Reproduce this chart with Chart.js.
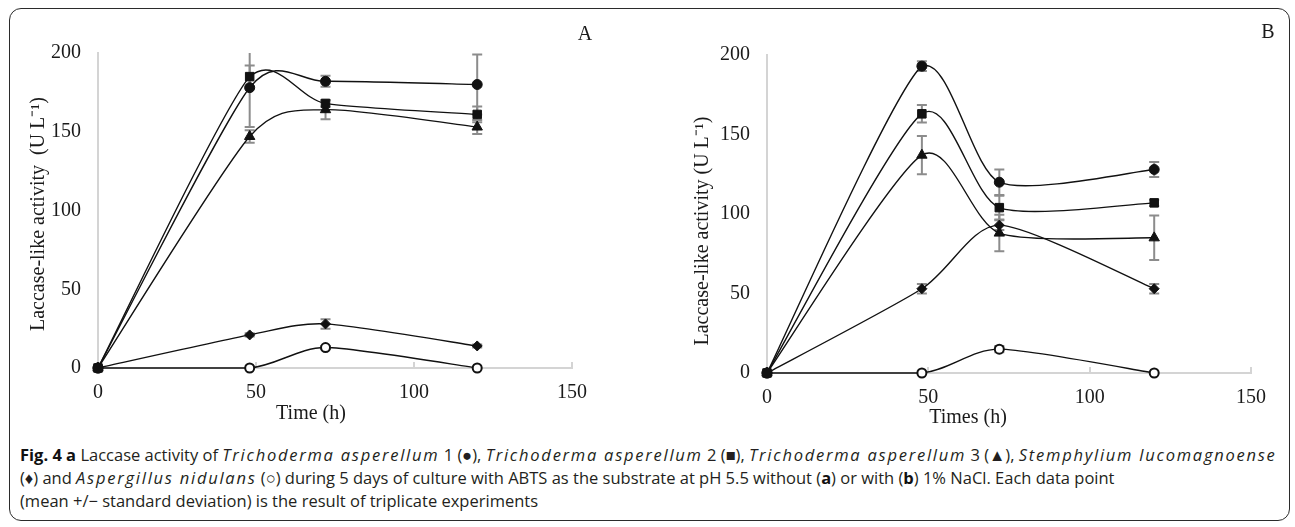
<!DOCTYPE html>
<html>
<head>
<meta charset="utf-8">
<script src="https://cdn.jsdelivr.net/npm/chart.js@4.4.1/dist/chart.umd.min.js"></script>
<style>
  html, body { margin: 0; padding: 0; background: #fff; }
  body { width: 1295px; height: 527px; position: relative; overflow: hidden; }
  #frame { position: absolute; left: 9px; top: 8px; width: 1281px; height: 513px;
           border: 1.5px solid #2b2b2b; border-radius: 12px; box-sizing: border-box; }
  .panel { position: absolute; top: 10px; }
  #panelA { left: 10px; }
  #panelB { left: 645px; }
  #caption { position: absolute; left: 20px; top: 443px; font-family: "Open Sans", sans-serif;
             font-size: 16.5px; line-height: 23px; color: #231f20; white-space: nowrap; }
  #caption b { color: #111; }
  #caption i { letter-spacing: 1.75px; }
</style>
</head>
<body>
<div id="frame"></div>
<canvas id="panelA" class="panel" width="635" height="425"></canvas>
<canvas id="panelB" class="panel" width="640" height="425"></canvas>
<div id="caption">
  <b>Fig. 4 a</b> Laccase activity of <i>Trichoderma asperellum</i> 1 (●), <i>Trichoderma asperellum</i> 2 (■), <i>Trichoderma asperellum</i> 3 (▲), <i>Stemphylium lucomagnoense</i><br>
  (♦) and <i>Aspergillus nidulans</i> (○) during 5 days of culture with ABTS as the substrate at pH 5.5 without (<b>a</b>) or with (<b>b</b>) 1% NaCl. Each data point<br>
  (mean +/− standard deviation) is the result of triplicate experiments
</div>
<script>
// tiempos de muestreo (h)
var hours = [0, 48, 72, 120];
var xTicks = [0, 50, 100, 150];
var yTicks = [0, 50, 100, 150, 200];

// panel A: sin NaCl
var ta1A = [0, 178, 182, 180];
var ta1A_sd = [0, 25, 3.5, 19];
var ta2A = [0, 185, 168, 161];
var ta2A_sd = [0, 7, 2, 5];
var ta3A = [0, 147, 164, 153];
var ta3A_sd = [0, 4, 6, 4.5];
var slA = [0, 21, 28, 14];
var slA_sd = [0, 1, 3, 1];
var anA = [0, 0, 13, 0];
var anA_sd = [0, 0, 1, 0];

// panel B: con 1% NaCl
var ta1B = [0, 193, 120, 128];
var ta1B_sd = [0, 3, 8, 4.7];
var ta2B = [0, 163, 104, 107];
var ta2B_sd = [0, 5.5, 7.5, 2];
var ta3B = [0, 137, 88, 85];
var ta3B_sd = [0, 12, 11.5, 14];
var slB = [0, 53, 93, 53];
var slB_sd = [0, 3, 3, 3];
var anB = [0, 0, 15, 0];
var anB_sd = [0, 0, 2, 0];

var serif = '"Liberation Serif", "Times New Roman", serif';

// curvas suavizadas tipo Excel (puntos de control uniformes)
var smoothCurves = {
    id: 'smoothCurves',
    beforeDatasetsDraw: function (chart) {
        var k = chart.options.plugins.smoothCurves.k, a = chart.chartArea;
        function clampY(v) { return Math.min(Math.max(v, a.top), a.bottom); }
        chart.data.datasets.forEach(function (ds, d) {
            var meta = chart.getDatasetMeta(d), pts = meta.data;
            pts.forEach(function (p, i) {
                var prev = pts[Math.max(i - 1, 0)], next = pts[Math.min(i + 1, pts.length - 1)];
                var dx = next.x - prev.x, dy = next.y - prev.y;
                p.cp1x = p.x - k * dx; p.cp1y = clampY(p.y - k * dy);
                p.cp2x = p.x + k * dx; p.cp2y = clampY(p.y + k * dy);
            });
            meta.dataset._pointsUpdated = true;
            meta.dataset._path = undefined;
        });
    }
};

// barras de error (desviacion estandar)
var errorBars = {
    id: 'errorBars',
    beforeDatasetsDraw: function (chart) {
        var ctx = chart.ctx, y = chart.scales.y, a = chart.chartArea;
        ctx.save();
        ctx.beginPath();
        ctx.rect(a.left - 10, a.top, a.right - a.left + 20, a.bottom - a.top + 10);
        ctx.clip();
        ctx.strokeStyle = '#8c8c8c';
        ctx.lineWidth = 2;
        chart.data.datasets.forEach(function (ds, d) {
            var meta = chart.getDatasetMeta(d);
            ds.sd.forEach(function (e, i) {
                if (!e) return;
                var px = meta.data[i].x;
                var v = ds.data[i].y;
                var t = y.getPixelForValue(v + e), b = y.getPixelForValue(v - e);
                ctx.beginPath();
                ctx.moveTo(px, t); ctx.lineTo(px, b);
                ctx.moveTo(px - 5, t); ctx.lineTo(px + 5, t);
                ctx.moveTo(px - 5, b); ctx.lineTo(px + 5, b);
                ctx.stroke();
            });
        });
        ctx.restore();
    }
};

// titulos de ejes y letra del panel
var panelText = {
    id: 'panelText',
    afterDraw: function (chart) {
        var o = chart.options.plugins.panelText, ctx = chart.ctx;
        ctx.save();
        ctx.fillStyle = '#1a1a1a';
        ctx.font = '20px ' + serif;
        ctx.textAlign = 'center';
        ctx.textBaseline = 'middle';
        ctx.fillText(o.letter, o.letterX, o.letterY);
        ctx.fillText(o.xTitle, o.xTitleX, o.xTitleY);
        ctx.translate(o.yTitleX, o.yTitleY);
        ctx.rotate(-Math.PI / 2);
        ctx.fillText(o.yTitle, 0, 0);
        ctx.restore();
    }
};

function serie(label, vals, sd, style, radius, open) {
    return {
        label: label,
        data: hours.map(function (h, i) { return { x: h, y: vals[i] }; }),
        sd: sd,
        borderColor: '#111',
        borderWidth: 1.4,
        pointStyle: style,
        pointRadius: radius,
        pointBackgroundColor: open ? '#fff' : '#111',
        pointBorderColor: '#111',
        pointBorderWidth: open ? 2 : 1,
        tension: 0.4,
        fill: false,
        clip: false
    };
}

function buildChart(id, sets, yWidth, text) {
    var ctx = document.getElementById(id).getContext('2d');
    return new Chart(ctx, {
        type: 'line',
        data: { datasets: sets },
        plugins: [smoothCurves, errorBars, panelText],
        options: {
            responsive: false,
            animation: false,
            layout: { padding: { top: text.padTop, right: text.padRight, left: 0, bottom: 0 } },
            plugins: {
                legend: { display: false },
                tooltip: { enabled: false },
                smoothCurves: { k: 0.12 },
                panelText: text
            },
            scales: {
                x: {
                    type: 'linear', min: 0, max: 150,
                    afterBuildTicks: function (s) { s.ticks = xTicks.map(function (v) { return { value: v }; }); },
                    ticks: { font: { family: serif, size: 20 }, color: '#1a1a1a', padding: 19, maxRotation: 0 },
                    grid: { drawOnChartArea: false, drawTicks: true, tickLength: -6, color: '#d4d4d4', lineWidth: 2 },
                    border: { color: '#d4d4d4', width: 2 },
                    afterFit: function (s) { s.height = text.xHeight; }
                },
                y: {
                    min: 0, max: 200,
                    afterBuildTicks: function (s) { s.ticks = yTicks.map(function (v) { return { value: v }; }); },
                    ticks: { font: { family: serif, size: 20 }, color: '#1a1a1a', padding: 17 },
                    grid: { drawOnChartArea: false, drawTicks: false },
                    border: { color: '#d4d4d4', width: 2 },
                    afterFit: function (s) { s.width = yWidth; }
                }
            }
        }
    });
}

buildChart('panelA', [
    serie('T. asperellum 1', ta1A, ta1A_sd, 'circle', 5, false),
    serie('T. asperellum 2', ta2A, ta2A_sd, 'rect', 6, false),
    serie('T. asperellum 3', ta3A, ta3A_sd, 'triangle', 6, false),
    serie('S. lucomagnoense', slA, slA_sd, 'rectRot', 5, false),
    serie('A. nidulans', anA, anA_sd, 'circle', 4.5, true)
], 88, {
    padTop: 43, padRight: 73, xHeight: 67,
    letter: 'A', letterX: 575, letterY: 25,
    xTitle: 'Time (h)', xTitleX: 301, xTitleY: 404,
    yTitle: 'Laccase-like activity  (U L⁻¹)', yTitleX: 29, yTitleY: 204
});

buildChart('panelB', [
    serie('T. asperellum 1', ta1B, ta1B_sd, 'circle', 5, false),
    serie('T. asperellum 2', ta2B, ta2B_sd, 'rect', 6, false),
    serie('T. asperellum 3', ta3B, ta3B_sd, 'triangle', 6, false),
    serie('S. lucomagnoense', slB, slB_sd, 'rectRot', 5, false),
    serie('A. nidulans', anB, anB_sd, 'circle', 4.5, true)
], 122, {
    padTop: 45, padRight: 25, xHeight: 62,
    letter: 'B', letterX: 623, letterY: 23,
    xTitle: 'Times (h)', xTitleX: 323, xTitleY: 408,
    yTitle: 'Laccase-like activity (U L⁻¹)', yTitleX: 58, yTitleY: 221
});
</script>
</body>
</html>
